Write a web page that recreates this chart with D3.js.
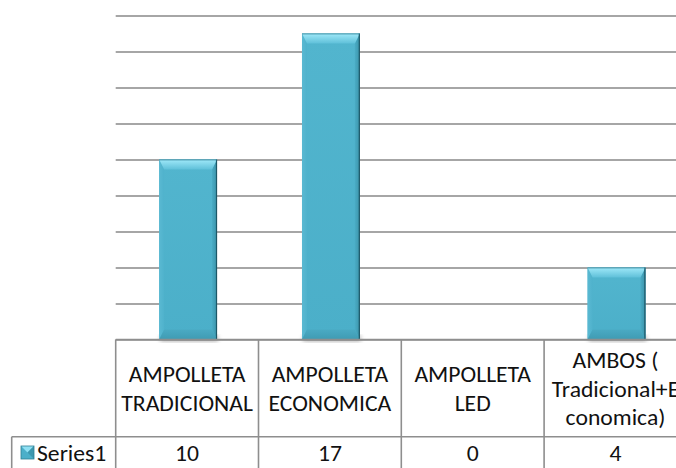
<!DOCTYPE html>
<html>
<head>
<meta charset="utf-8">
<script src="https://cdn.jsdelivr.net/npm/d3@7"></script>
<style>
  html, body { margin: 0; padding: 0; background: #ffffff; overflow: hidden; }
  svg { display: block; font-family: Carlito, Calibri, Lato, sans-serif; }
</style>
</head>
<body>
<svg id="chart" width="676" height="468"></svg>
<script>
// Categories, their wrapped header lines, and the single series
const categories = ["AMPOLLETA TRADICIONAL", "AMPOLLETA ECONOMICA", "AMPOLLETA LED", "AMBOS ( Tradicional+Economica)"];
const headerLines = [
  ["AMPOLLETA", "TRADICIONAL"],
  ["AMPOLLETA", "ECONOMICA"],
  ["AMPOLLETA", "LED"],
  ["AMBOS (", "Tradicional+E", "conomica)"]
];
const seriesName = "Series1";
const series1 = [10, 17, 0, 4];
const yTicks = [0, 2, 4, 6, 8, 10, 12, 14, 16, 18];

const svg = d3.select("#chart");

const plotLeft = 115.7, colW = 142.8;
const plotTop = 15.5, plotBottom = 339.5;
const rowBottom = 436.7, tableBottom = 500, tableLeft = 11.7;

const x = d3.scaleBand().domain(categories).range([plotLeft, plotLeft + colW * categories.length]).paddingInner(0).paddingOuter(0);
const y = d3.scaleLinear().domain([0, 18]).range([plotBottom, plotTop]);

// Gradients for the bevelled bar faces
const defs = svg.append("defs");
function grad(id, x1, y1, x2, y2, stops) {
  const g = defs.append("linearGradient").attr("id", id)
    .attr("x1", x1).attr("y1", y1).attr("x2", x2).attr("y2", y2);
  stops.forEach(s => g.append("stop").attr("offset", s[0]).attr("stop-color", s[1]));
}
grad("gTop", 0, 0, 0, 1, [[0, "#a0e9f9"], [1, "#5fc0d9"]]);
grad("gBottom", 0, 0, 0, 1, [[0, "#4aaac3"], [1, "#3f9bb3"]]);
grad("gLeft", 0, 0, 1, 0, [[0, "#5ab9d2"], [1, "#4fb2cc"]]);
grad("gRight", 0, 0, 1, 0, [[0, "#4aacc5"], [1, "#3b93aa"]]);
grad("gFace", 0, 0, 0, 1, [[0, "#52b5ce"], [1, "#4bafc9"]]);
const blur = defs.append("filter").attr("id", "shadow").attr("x", "-20%").attr("y", "-20%").attr("width", "140%").attr("height", "140%");
blur.append("feGaussianBlur").attr("stdDeviation", 2);

// Horizontal gridlines from the value axis
const grid = svg.append("g")
  .attr("transform", `translate(${plotLeft},0)`)
  .call(d3.axisLeft(y).tickValues(yTicks).tickSize(-colW * categories.length).tickFormat(""));
grid.select(".domain").remove();
grid.selectAll(".tick line").attr("stroke", "#898989").attr("stroke-width", 1.6);

// Bars with a bevelled face
const barW = x.bandwidth() * 0.405;
const bars = svg.append("g");
categories.forEach((c, i) => {
  const v = series1[i];
  if (v <= 0) return;
  const x0 = x(c) + (x.bandwidth() - barW) / 2 + 1;
  const x1 = x0 + barW;
  const y0 = y(v), y1 = y(0);
  const b = 10, bs = 5;
  const g = bars.append("g");
  // soft shadow under the bar
  g.append("rect").attr("x", x0 + 1).attr("y", y1 - 4).attr("width", barW).attr("height", 6)
    .attr("fill", "#7a7a7a").attr("opacity", 0.55).attr("filter", "url(#shadow)");
  g.append("rect").attr("x", x0).attr("y", y0).attr("width", barW).attr("height", y1 - y0).attr("fill", "url(#gFace)");
  const poly = (pts, fill) => g.append("polygon").attr("points", pts.map(p => p.join(",")).join(" ")).attr("fill", fill);
  poly([[x0, y0], [x0 + bs, y0 + b], [x0 + bs, y1 - b], [x0, y1]], "url(#gLeft)");
  poly([[x1, y0], [x1 - bs, y0 + b], [x1 - bs, y1 - b], [x1, y1]], "url(#gRight)");
  poly([[x0, y1], [x0 + bs, y1 - b], [x1 - bs, y1 - b], [x1, y1]], "url(#gBottom)");
  poly([[x0, y0], [x1, y0], [x1 - bs, y0 + b], [x0 + bs, y0 + b]], "url(#gTop)");
  // dark outline on the right and top edges
  g.append("line").attr("x1", x1 - 0.5).attr("x2", x1 - 0.5).attr("y1", y0).attr("y2", y1).attr("stroke", "#1d5767").attr("stroke-width", 1.2);
  g.append("line").attr("x1", x0).attr("x2", x1).attr("y1", y0 + 0.4).attr("y2", y0 + 0.4).attr("stroke", "#2f7f93").attr("stroke-width", 0.8);
});

// Data table below the plot
const border = "#8e8e8e", bw = 1.6;
const table = svg.append("g");
const xEnd = plotLeft + colW * categories.length;
const hl = (x1, x2, yy) => table.append("line").attr("x1", x1).attr("x2", x2).attr("y1", yy).attr("y2", yy).attr("stroke", border).attr("stroke-width", bw);
const vl = (xx, y1, y2) => table.append("line").attr("x1", xx).attr("x2", xx).attr("y1", y1).attr("y2", y2).attr("stroke", border).attr("stroke-width", bw);
hl(plotLeft, xEnd, plotBottom);
hl(tableLeft, xEnd, rowBottom);
vl(tableLeft, rowBottom, tableBottom);
categories.forEach((c, i) => vl(x(c), plotBottom, tableBottom));
vl(xEnd, plotBottom, tableBottom);

// Table text is drawn slightly widened
const fontSize = 21.5, lineH = 28.5, sx = 1.1;
categories.forEach((c, i) => {
  const lines = headerLines[i];
  const cx = x(c) + x.bandwidth() / 2;
  const cy = (plotBottom + rowBottom) / 2 + 1;
  const t = table.append("text").attr("transform", `translate(${cx},0) scale(${sx},1)`)
    .attr("text-anchor", "middle").attr("font-size", fontSize).attr("fill", "#111");
  lines.forEach((ln, k) => {
    t.append("tspan").attr("x", 0)
      .attr("y", cy + (k - (lines.length - 1) / 2) * lineH)
      .attr("dominant-baseline", "central").text(ln);
  });
  table.append("text").attr("transform", `translate(${cx},0) scale(${sx},1)`)
    .attr("y", 453).attr("text-anchor", "middle")
    .attr("dominant-baseline", "central").attr("font-size", fontSize).attr("fill", "#111")
    .text(series1[i]);
});

// Series key in the table row
const kx = 21, ky = 446, ks = 13;
const key = table.append("g");
key.append("rect").attr("x", kx).attr("y", ky).attr("width", ks).attr("height", ks).attr("fill", "#4bafc9");
key.append("polygon").attr("points", `${kx},${ky} ${kx + ks},${ky} ${kx + ks / 2},${ky + ks / 2}`).attr("fill", "#8fe0f3");
key.append("polygon").attr("points", `${kx + ks},${ky} ${kx + ks},${ky + ks} ${kx + ks / 2},${ky + ks / 2}`).attr("fill", "#3d97ae");
key.append("rect").attr("x", kx).attr("y", ky).attr("width", ks).attr("height", ks).attr("fill", "none").attr("stroke", "#2d7f94").attr("stroke-width", 0.8);
table.append("text").attr("transform", `translate(37,0) scale(${sx},1)`)
  .attr("y", 453).attr("dominant-baseline", "central")
  .attr("font-size", fontSize).attr("fill", "#111").text(seriesName);
</script>
</body>
</html>
